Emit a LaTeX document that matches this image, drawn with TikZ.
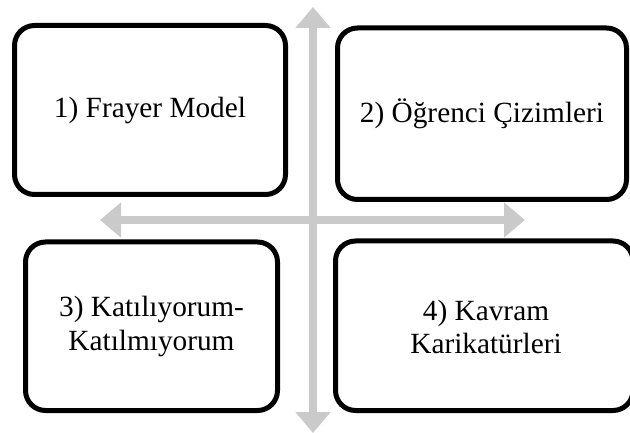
\documentclass[tikz,border=0pt]{standalone}
\usepackage{fontspec}
\setmainfont{Liberation Serif}
\usetikzlibrary{arrows.meta}
\definecolor{arrowgray}{RGB}{202,202,202}
\tikzset{
  quad/.style={draw=black, fill=white, line width=5pt, rounded corners=20pt,
    rectangle, inner sep=0pt, align=center,
    font=\fontsize{29.3}{33.5}\selectfont},
  crossarrow/.style={draw=arrowgray, line width=8.5pt,
    {Triangle[width=34pt,length=21pt]}-{Triangle[width=34pt,length=21pt]}}
}
\begin{document}
\begin{tikzpicture}[x=1pt,y=-1pt]
\useasboundingbox (0,0) rectangle (630,433);
\clip (0,0) rectangle (630,433);
\coordinate (vtop) at (313,7);
\coordinate (vbot) at (313,433);
\coordinate (hleft) at (100,220);
\coordinate (hright) at (525,220);
\draw[crossarrow] (vtop) -- (vbot);
\draw[crossarrow] (hleft) -- (hright);
\node[quad, minimum width=271pt, minimum height=169pt] (b1) at (150,110) {1) Frayer Model};
\node[quad, minimum width=289pt, minimum height=171.5pt] (b2) at (482,113.75) {2) Öğrenci Çizimleri};
\node[quad, minimum width=252pt, minimum height=168.5pt] (b3) at (151.5,326.25) {3) Katılıyorum-\\Katılmıyorum};
\node[quad, minimum width=297.5pt, minimum height=169.5pt] (b4) at (484.25,325.75) {};
\node[font=\fontsize{29.3}{33.5}\selectfont, align=center, inner sep=0pt] (t4) at (486,327) {4) Kavram\\Karikatürleri};
\end{tikzpicture}
\end{document}
